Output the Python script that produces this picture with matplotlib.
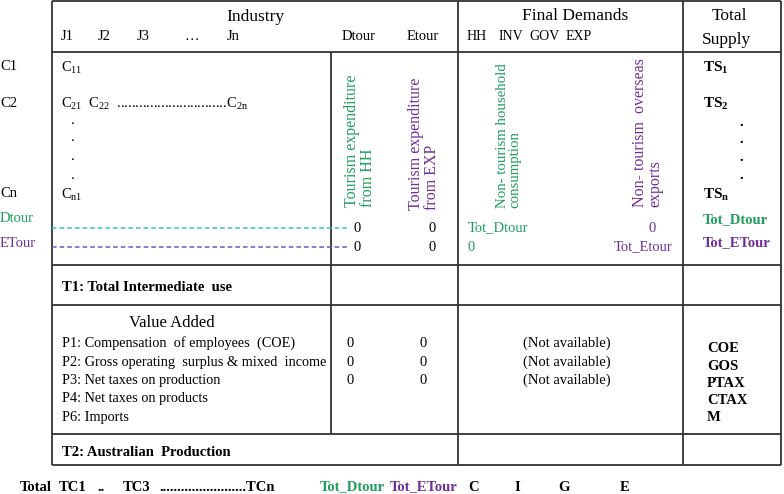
import matplotlib
matplotlib.use("Agg")
import matplotlib.pyplot as plt

plt.rcParams['font.family'] = ['Liberation Serif', 'DejaVu Serif']
plt.rcParams['mathtext.fontset'] = 'custom'
plt.rcParams['mathtext.rm'] = 'Liberation Serif'
plt.rcParams['mathtext.bf'] = 'Liberation Serif:bold'
plt.rcParams['mathtext.it'] = 'Liberation Serif:italic'

# ---- content ----
industry_cols = ["J1", "J2", "J3", "…", "Jn"]
tourism_cols = ["Dtour", "Etour"]
final_cols = ["HH", "INV", "GOV", "EXP"]
row_labels = ["C1", "C2", "Cn"]
tour_rows = ["Dtour", "ETour"]
total_supply = [r"TS$_{\mathbf{1}}$", r"TS$_{\mathbf{2}}$", r"TS$_{\mathbf{n}}$", "Tot_Dtour", "Tot_ETour"]
va_rows = ["P1: Compensation  of employees  (COE)",
           "P2: Gross operating  surplus & mixed  income",
           "P3: Net taxes on production",
           "P4: Net taxes on products",
           "P6: Imports"]
va_dtour = ["0", "0", "0"]
va_etour = ["0", "0", "0"]
va_final = ["(Not available)", "(Not available)", "(Not available)"]
va_totals = ["COE", "GOS", "PTAX", "CTAX", "M"]
bottom_row = ["Total", "TC1", "..", "TC3", "........................TCn",
              "Tot_Dtour", "Tot_ETour", "C", "I", "G", "E"]

GREEN = "#1f9e5c"
PURPLE = "#6f2f9a"
DASH_G = "#3cc4b0"
DASH_P = "#6a58bc"
LINE = "#333333"

fig = plt.figure(figsize=(7.84, 4.94), dpi=100)
ax = fig.add_axes([0, 0, 1, 1])
ax.set_xlim(0, 784)
ax.set_ylim(494, 0)
ax.axis('off')

lw = 1.3
# horizontal lines
for y in [1, 52, 265, 305, 434, 465]:
    ax.plot([52, 781], [y, y], color=LINE, lw=lw, solid_capstyle='butt')
# vertical lines
for x in [52, 458, 683, 781]:
    ax.plot([x, x], [1, 465], color=LINE, lw=lw, solid_capstyle='butt')
ax.plot([331, 331], [52, 434], color=LINE, lw=lw, solid_capstyle='butt')

# dashed tourism rows
ax.plot([52, 347], [228, 228], color=DASH_G, lw=1.1, ls=(0, (3, 2)))
ax.plot([52, 347], [247, 247], color=DASH_P, lw=1.1, ls=(0, (3, 2)))

def t(x, y, s, size=10.5, ha='left', color='black', weight='normal', **kw):
    ax.text(x, y, s, fontsize=size, ha=ha, va='center', color=color, fontweight=weight, **kw)

# headers
t(255, 17, "Industry", 12.5, ha='center')
for x, s in zip([61, 98, 137, 185, 227], industry_cols):
    t(x, 37, s, 10.5)
for x, s in zip([342, 407], tourism_cols):
    t(x, 37, s, 10.5)
t(575, 16, "Final Demands", 12.5, ha='center')
for x, s in zip([467, 499, 529, 566], final_cols):
    t(x, 37, s, 10)
t(729, 16, "Total", 12.5, ha='center')
t(727, 40, "Supply", 12.5, ha='center')

# row labels
for y, s in zip([66, 103, 193], row_labels):
    t(0, y, s, 10.5)
t(0, 218, tour_rows[0], 10.5, color=GREEN)
t(0, 243, tour_rows[1], 10.5, color=PURPLE)

# intermediate matrix
t(61, 68, r"C$_{\mathrm{11}}$", 10.5)
t(61, 104, r"C$_{\mathrm{21}}$  C$_{\mathrm{22}}$  ..............................C$_{\mathrm{2n}}$", 10.5)
for y in [123, 140, 159, 178]:
    t(73, y - 3, ".", 10.5, ha='center')
t(61, 195, r"C$_{\mathrm{n1}}$", 10.5)

# rotated column descriptions
ax.text(360, 207, "Tourism expenditure\nfrom HH", rotation=90, fontsize=11.5, color=GREEN,
        ha='center', va='bottom', multialignment='left', linespacing=0.95)
ax.text(424, 210, "Tourism expenditure\nfrom EXP", rotation=90, fontsize=11.5, color=PURPLE,
        ha='center', va='bottom', multialignment='left', linespacing=0.95)
ax.text(509, 208, "Non- tourism household\nconsumption", rotation=90, fontsize=10.7, color=GREEN,
        ha='center', va='bottom', multialignment='left', linespacing=0.95)
ax.text(648, 207, "Non- tourism  overseas\nexports", rotation=90, fontsize=11.5, color=PURPLE,
        ha='center', va='bottom', multialignment='left', linespacing=0.95)

# tourism rows values
t(357, 228, "0", 10.5, ha='center')
t(357, 247, "0", 10.5, ha='center')
t(432, 228, "0", 10.5, ha='center')
t(432, 247, "0", 10.5, ha='center')
t(468, 228, "Tot_Dtour", 10.5, color=GREEN)
t(468, 247, "0", 10.5, color=GREEN)
t(652, 228, "0", 10.5, ha='center', color=PURPLE)
t(673, 247, "Tot_Etour", 10.5, ha='right', color=PURPLE)

# total supply column
for y, s in zip([68, 104, 195], total_supply[:3]):
    t(703, y, s, 11, weight='bold')
for y in [125, 142, 160, 178]:
    t(741, y - 3, ".", 10.5, ha='center', weight='bold')
t(703, 220, total_supply[3], 10.5, weight='bold', color=GREEN)
t(703, 243, total_supply[4], 10.5, weight='bold', color=PURPLE)

# T1
t(62, 287, "T1: Total Intermediate  use", 10.5, weight='bold')

# value added
t(172, 323, "Value Added", 12, ha='center')
va_y = [343, 362, 380, 398, 417]
for y, s in zip(va_y, va_rows):
    t(62, y, s, 10.3)
for y, s in zip(va_y, va_dtour):
    t(350, y, s, 10.5, ha='center')
for y, s in zip(va_y, va_etour):
    t(423, y, s, 10.5, ha='center')
for y, s in zip(va_y, va_final):
    t(567, y, s, 10.5, ha='center')
for y, s in zip([348, 366, 383, 400, 417], va_totals):
    t(707, y, s, 10.5, weight='bold')

# T2
t(62, 452, "T2: Australian  Production", 10.5, weight='bold')

# bottom totals row
bx = [20, 59, 97, 123, 159, 320, 390, 468, 514, 558, 620]
bc = ['black'] * 5 + [GREEN, PURPLE] + ['black'] * 4
for x, s, c in zip(bx, bottom_row, bc):
    t(x, 487, s, 10.5, weight='bold', color=c)

fig.savefig("out.png", dpi=100)
